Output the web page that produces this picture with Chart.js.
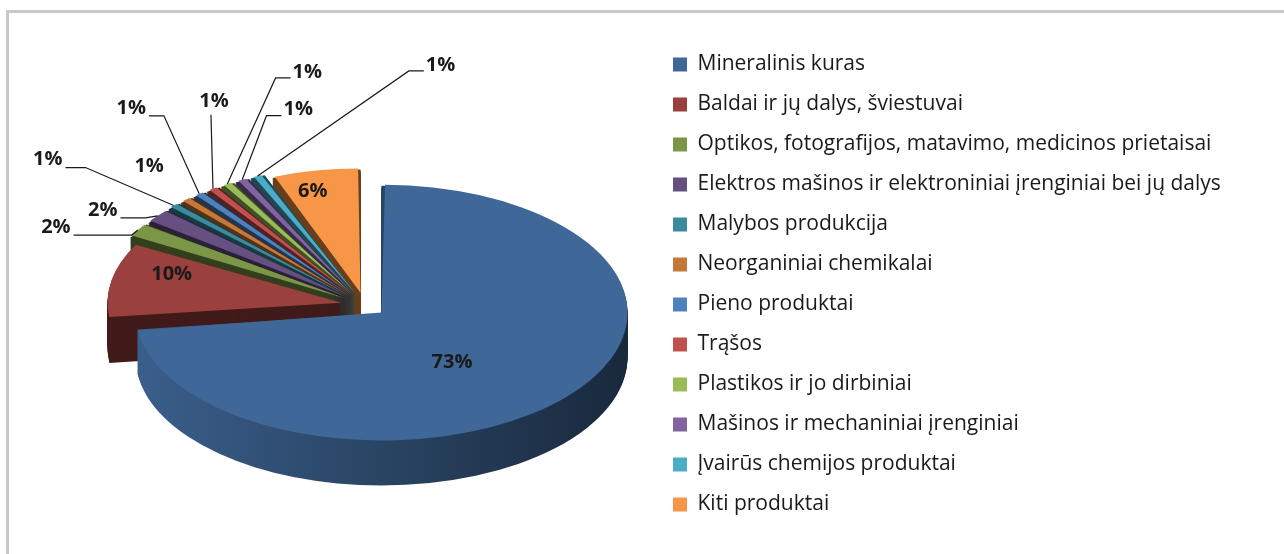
<!DOCTYPE html>
<html><head><meta charset="utf-8">
<script src="https://cdn.jsdelivr.net/npm/chart.js@4.4.1/dist/chart.umd.min.js"></script>
<style>
html,body{margin:0;padding:0;background:#fff;overflow:hidden;width:1284px;height:554px}
#frame{position:absolute;left:6px;top:10px;width:1400px;height:700px;border:3px solid #c9c9c9;}
#wrap{position:absolute;left:0;top:0;width:1284px;height:554px}
</style></head><body>
<div id="frame"></div>
<div id="wrap"><canvas id="c" width="1284" height="554"></canvas></div>
<script>
// ---- data ----
const categories = [
  'Mineralinis kuras',
  'Baldai ir jų dalys, šviestuvai',
  'Optikos, fotografijos, matavimo, medicinos prietaisai',
  'Elektros mašinos ir elektroniniai įrenginiai bei jų dalys',
  'Malybos produkcija',
  'Neorganiniai chemikalai',
  'Pieno produktai',
  'Trąšos',
  'Plastikos ir jo dirbiniai',
  'Mašinos ir mechaniniai įrenginiai',
  'Įvairūs chemijos produktai',
  'Kiti produktai'
];
const shares = [73, 10, 2, 2, 1, 1, 1, 1, 1, 1, 1, 6];
const shareLabels = ['73%', '10%', '2%', '2%', '1%', '1%', '1%', '1%', '1%', '1%', '1%', '6%'];

// ---- style ----
const colors = ['#3F6797', '#9A403E', '#7C9647', '#665082', '#3C8A9E', '#C67838',
                '#4F81BD', '#C0504D', '#9BBB59', '#8064A2', '#4BACC6', '#F79646'];
const explode = [88, 96, 96, 96, 96, 96, 96, 96, 96, 96, 96, 96];
// label placement relative to slice outer anchor: dx, dy, attach side, leader arm
const labelPlace = [
  {dx: -114, dy: -36, attach: 'none'},
  {dx: 60, dy: -7, attach: 'none'},
  {dx: -82, dy: -4, attach: 'r', arm: 58},
  {dx: -55, dy: -7, attach: 'r', arm: 25},
  {dx: -126, dy: -47, attach: 'r', arm: 20},
  {dx: -37, dy: -34, attach: 'none'},
  {dx: -68, dy: -87, attach: 'r', arm: 15},
  {dx: 1, dy: -88, attach: 'b'},
  {dx: 80, dy: -113, attach: 'l', arm: -15},
  {dx: 56, dy: -71, attach: 'l', arm: -15},
  {dx: 183, dy: -112, attach: 'l', arm: -15},
  {dx: -3, dy: 20, attach: 'none'}
];
const PIE_CX = 365, PIE_CY = 305, SQUASH = 0.52, DEPTH = 45;
const LEGEND_W = 630;
const FONT = '"Open Sans", "Noto Sans", sans-serif';

function shade(hex, f) {
  const n = parseInt(hex.slice(1), 16);
  const r = Math.round(((n >> 16) & 255) * f), g = Math.round(((n >> 8) & 255) * f), b = Math.round((n & 255) * f);
  return `rgb(${r},${g},${b})`;
}

function arcGeom(el) {
  const off = (el.options.offset || 0) / 4;
  const circ = el.endAngle - el.startAngle;
  const fix = 1 - Math.sin(Math.min(Math.PI, circ || 0));
  const half = (el.startAngle + el.endAngle) / 2;
  return {
    x: el.x + Math.cos(half) * off, y: el.y + Math.sin(half) * off,
    r: el.outerRadius + off * fix, s: el.startAngle, e: el.endAngle, half, off
  };
}
function toScreen(el, px, py) {
  return {x: px - el.x + PIE_CX, y: PIE_CY + (py - el.y) * SQUASH};
}

const pie3d = {
  id: 'pie3d',
  beforeDatasetsDraw(chart) {
    const ctx = chart.ctx;
    const arcs = chart.getDatasetMeta(0).data;
    const a0 = arcs[0];
    ctx.save();
    ctx.translate(PIE_CX, PIE_CY);
    ctx.scale(1, SQUASH);
    ctx.translate(-a0.x, -a0.y);
    const order = arcs.map((el, i) => {
      const g = arcGeom(el);
      return {i, el, g, cy: g.y + Math.sin(g.half) * g.r * 0.5};
    }).sort((a, b) => a.cy - b.cy);
    for (const o of order) {
      const g = o.g;
      const circ = g.e - g.s;
      let fill;
      if (circ > Math.PI) {
        const grad = ctx.createLinearGradient(g.x - g.r, 0, g.x + g.r, 0);
        grad.addColorStop(0, shade(colors[o.i], 0.92));
        grad.addColorStop(1, shade(colors[o.i], 0.40));
        fill = grad;
      } else {
        fill = shade(colors[o.i], 0.42);
      }
      ctx.fillStyle = fill;
      for (let d = DEPTH; d >= 1; d--) {
        const dy = d / SQUASH;
        ctx.beginPath();
        ctx.moveTo(g.x, g.y + dy);
        ctx.arc(g.x, g.y + dy, g.r, g.s, g.e);
        ctx.closePath();
        ctx.fill();
      }
    }
  },
  afterDatasetsDraw(chart) {
    const ctx = chart.ctx;
    ctx.restore();
    const arcs = chart.getDatasetMeta(0).data;
    ctx.save();
    ctx.font = 'bold 20px ' + FONT;
    ctx.fillStyle = '#1a1a1a';
    ctx.strokeStyle = '#1a1a1a';
    ctx.lineWidth = 1.2;
    ctx.textAlign = 'center';
    ctx.textBaseline = 'middle';
    arcs.forEach((el, i) => {
      const g = arcGeom(el);
      const ax = g.x + Math.cos(g.half) * g.r, ay = g.y + Math.sin(g.half) * g.r;
      const A = toScreen(el, ax, ay);
      const p = labelPlace[i];
      const tx = A.x + p.dx, ty = A.y + p.dy;
      const txt = shareLabels[i];
      const w = ctx.measureText(txt).width;
      if (p.attach !== 'none') {
        let S, E;
        if (p.attach === 'r') { S = {x: tx + w / 2 + 3, y: ty + 9}; E = {x: S.x + p.arm, y: S.y}; }
        else if (p.attach === 'l') { S = {x: tx - w / 2 - 2, y: ty + 7}; E = {x: S.x + p.arm, y: S.y}; }
        else { S = {x: tx - 3, y: ty + 14}; E = S; }
        ctx.beginPath();
        ctx.moveTo(A.x, A.y);
        ctx.lineTo(E.x, E.y);
        ctx.lineTo(S.x, S.y);
        ctx.stroke();
      }
      ctx.fillText(txt, tx, ty + 1);
    });
    ctx.restore();
  },
  beforeLayout(chart) {
    const lg = chart.legend;
    if (lg && !lg._fixedW) {
      const f = lg.fit.bind(lg);
      lg.fit = function () { f(); this.width = LEGEND_W; };
      lg._fixedW = true;
    }
  }
};

new Chart(document.getElementById('c'), {
  type: 'pie',
  data: {
    labels: categories,
    datasets: [{
      data: shares,
      backgroundColor: colors,
      borderWidth: 0,
      offset: explode,
      clip: false
    }]
  },
  options: {
    responsive: false,
    animation: false,
    devicePixelRatio: 1,
    radius: 224,
    layout: {padding: {top: 35, left: 0, right: 0, bottom: 0}},
    plugins: {
      tooltip: {enabled: false},
      legend: {
        position: 'right',
        align: 'start',
        labels: {
          boxWidth: 14, boxHeight: 14, padding: 19,
          color: '#1a1a1a',
          font: {family: FONT, size: 21}
        }
      }
    }
  },
  plugins: [pie3d]
});
</script>
</body></html>
